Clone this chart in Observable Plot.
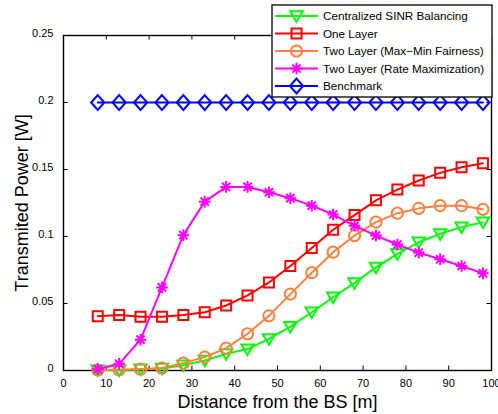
<!DOCTYPE html>
<html>
<head>
<meta charset="utf-8">
<script src="https://cdn.jsdelivr.net/npm/d3@7"></script>
<script src="https://cdn.jsdelivr.net/npm/@observablehq/plot@0.6"></script>
<style>
  body { margin: 0; background: #fff; }
  #chart { width: 498px; height: 414px; }
  #chart svg { overflow: visible; }
</style>
</head>
<body>
<div id="chart"></div>
<script>
// Distance of the user from the base station [m]
const distance = [8, 13, 18, 23, 28, 33, 38, 43, 48, 53, 58, 63, 68, 73, 78, 83, 88, 93, 98];

// Transmitted power [W] for each scheme
const centralized = [0.0002, 0.0003, 0.001, 0.0015, 0.004, 0.0075, 0.0124, 0.016, 0.0236, 0.0328, 0.0435, 0.0547, 0.0654, 0.077, 0.087, 0.0957, 0.102, 0.107, 0.1107];
const oneLayer = [0.0405, 0.0415, 0.0402, 0.0402, 0.0415, 0.0435, 0.0485, 0.056, 0.0657, 0.078, 0.0915, 0.105, 0.116, 0.127, 0.135, 0.1418, 0.1475, 0.1517, 0.1547];
const twoLayerMaxMin = [0.0003, 0.0005, 0.001, 0.0018, 0.0055, 0.010, 0.0167, 0.0274, 0.0408, 0.057, 0.073, 0.0883, 0.1007, 0.1107, 0.1174, 0.121, 0.123, 0.123, 0.1203];
const twoLayerRateMax = [0.001, 0.005, 0.023, 0.062, 0.101, 0.126, 0.137, 0.137, 0.133, 0.1286, 0.123, 0.1164, 0.108, 0.1007, 0.094, 0.088, 0.083, 0.078, 0.0725];
const benchmark = [0.2, 0.2, 0.2, 0.2, 0.2, 0.2, 0.2, 0.2, 0.2, 0.2, 0.2, 0.2, 0.2, 0.2, 0.2, 0.2, 0.2, 0.2, 0.2];

const seriesNames = [
  "Centralized SINR Balancing",
  "One Layer",
  "Two Layer (Max\u2212Min Fairness)",
  "Two Layer (Rate Maximization)",
  "Benchmark"
];
const seriesColors = ["#00ff00", "#ff0000", "#ff8040", "#ff00ff", "#0000ff"];

const xTicks = [0, 10, 20, 30, 40, 50, 60, 70, 80, 90, 100];
const yTicks = [0, 0.05, 0.1, 0.15, 0.2, 0.25];

// Marker shapes; the symbol size (area) is turned back into a radius
const radiusOf = size => Math.sqrt(size / Math.PI);
const triangleDown = {draw(c, size) {
  const r = radiusOf(size);
  c.moveTo(-r, -0.75 * r); c.lineTo(r, -0.75 * r); c.lineTo(0, 0.95 * r); c.closePath();
}};
const squareMark = {draw(c, size) {
  const r = radiusOf(size);
  c.rect(-r, -r, 2 * r, 2 * r);
}};
const circleMark = {draw(c, size) {
  const r = radiusOf(size);
  c.moveTo(r, 0); c.arc(0, 0, r, 0, 2 * Math.PI);
}};
const starMark = {draw(c, size) {
  const r = radiusOf(size);
  for (let k = 0; k < 4; k++) {
    const a = k * Math.PI / 4;
    c.moveTo(r * Math.cos(a), r * Math.sin(a));
    c.lineTo(-r * Math.cos(a), -r * Math.sin(a));
  }
}};
const diamondMark = {draw(c, size) {
  const r = radiusOf(size);
  c.moveTo(0, -1.12 * r); c.lineTo(r, 0); c.lineTo(0, 1.12 * r); c.lineTo(-r, 0); c.closePath();
}};
const seriesSymbols = [triangleDown, squareMark, circleMark, starMark, diamondMark];
const seriesRadii = [6.2, 5, 5.6, 5.8, 6.6];

const seriesValues = [centralized, oneLayer, twoLayerMaxMin, twoLayerRateMax, benchmark];
const series = seriesValues.map((vals, i) =>
  distance.map((d, j) => ({distance: d, power: vals[j], name: seriesNames[i]}))
);

const W = 498, H = 414;
const margin = {top: 35, right: 7, bottom: 44, left: 63};
const frameH = H - margin.top - margin.bottom;
const frameW = W - margin.left - margin.right;
const tickLen = 4.5;
const font = "'Liberation Sans', Arial, Helvetica, sans-serif";

const marks = [
  Plot.frame({stroke: "black", strokeWidth: 1.4}),
  // inward tick marks on all four sides
  Plot.tickX(xTicks, {x: d => d, insetTop: frameH - tickLen, stroke: "black", strokeWidth: 1}),
  Plot.tickX(xTicks, {x: d => d, insetBottom: frameH - tickLen, stroke: "black", strokeWidth: 1}),
  Plot.tickY(yTicks, {y: d => d, insetRight: frameW - tickLen, stroke: "black", strokeWidth: 1}),
  Plot.tickY(yTicks, {y: d => d, insetLeft: frameW - tickLen, stroke: "black", strokeWidth: 1}),
  Plot.axisX(xTicks, {tickSize: 0, tickPadding: 9, fontSize: 11, fill: "black", label: null, tickFormat: d => String(d)}),
  Plot.axisY(yTicks, {tickSize: 0, tickPadding: 10, fontSize: 11, fill: "black", dy: -2, label: null, tickFormat: d => String(d)}),
  Plot.text(["Distance from the BS [m]"], {frameAnchor: "bottom", lineAnchor: "middle", textAnchor: "middle",
    dy: 31.5, fontSize: 18, fill: "black"}),
  Plot.text(["Transmited Power [W]"], {frameAnchor: "left", lineAnchor: "middle", textAnchor: "middle",
    rotate: -90, dx: -41, fontSize: 18, fill: "black"})
];

series.forEach((data, i) => {
  marks.push(Plot.line(data, {x: "distance", y: "power", stroke: seriesColors[i], strokeWidth: 2}));
  marks.push(Plot.dot(data, {x: "distance", y: "power", stroke: seriesColors[i], strokeWidth: 2, fill: "none",
    symbol: seriesSymbols[i], r: seriesRadii[i]}));
});

const chart = Plot.plot({
  width: W,
  height: H,
  marginTop: margin.top,
  marginRight: margin.right,
  marginBottom: margin.bottom,
  marginLeft: margin.left,
  style: {fontFamily: font, color: "black", background: "white"},
  x: {domain: [0, 100]},
  y: {domain: [0, 0.25]},
  marks
});
document.getElementById("chart").append(chart);

// Legend box in the upper right corner
const svg = d3.select(chart);
const legend = svg.append("g").attr("font-family", font).attr("font-size", 11.7).attr("text-anchor", "start");
const box = {x0: 272, y0: 5, x1: 492, y1: 97, row0: 16, rowStep: 17.5};
legend.append("rect")
  .attr("x", box.x0).attr("y", box.y0)
  .attr("width", box.x1 - box.x0).attr("height", box.y1 - box.y0)
  .attr("fill", "white").attr("stroke", "black").attr("stroke-width", 1.3);
seriesNames.forEach((name, i) => {
  const y = box.row0 + i * box.rowStep;
  const row = legend.append("g").attr("transform", `translate(0,${y})`);
  row.append("line").attr("x1", 275).attr("x2", 318).attr("y1", 0).attr("y2", 0)
    .attr("stroke", seriesColors[i]).attr("stroke-width", 2);
  row.append("path")
    .attr("transform", "translate(296.5,0)")
    .attr("d", d3.symbol(seriesSymbols[i], Math.PI * seriesRadii[i] * seriesRadii[i])())
    .attr("fill", "none").attr("stroke", seriesColors[i]).attr("stroke-width", 2);
  row.append("text").attr("x", 323).attr("y", 0).attr("dy", "0.35em")
    .attr("text-anchor", "start").attr("fill", "black").text(name);
});
</script>
</body>
</html>
